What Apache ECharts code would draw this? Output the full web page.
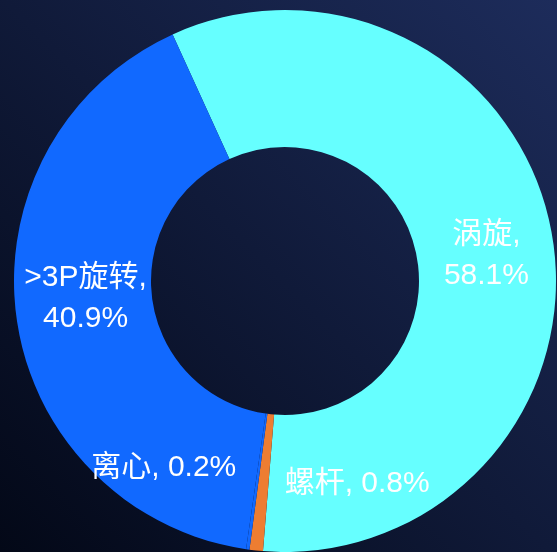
<!DOCTYPE html>
<html>
<head>
<meta charset="utf-8">
<script src="https://cdn.jsdelivr.net/npm/echarts@6/dist/echarts.min.js"></script>
<style>
html,body{margin:0;padding:0;background:#0a1230;}
#chart{width:557px;height:552px;}
</style>
</head>
<body>
<div id="chart"></div>
<script>
const categories = ['涡旋', '螺杆', '离心', '>3P旋转'];
const values = [58.1, 0.8, 0.2, 40.9];
const colors = ['#66FFFF', '#ED7D31', '#1169FF', '#1169FF'];
const wrapped = [true, false, false, true];
const labelOffsets = [[-1, 10], [94, -2], [-93, -17], [4, -12]];

const chart = echarts.init(document.getElementById('chart'));
chart.setOption({
  backgroundColor: new echarts.graphic.LinearGradient(1, 0, 0, 1, [
    {offset: 0, color: '#1d2c5b'},
    {offset: 1, color: '#030817'}
  ]),
  series: [{
    type: 'pie',
    center: [285, 281],
    radius: [134, 271],
    startAngle: 114.5,
    clockwise: true,
    avoidLabelOverlap: false,
    label: {
      show: true,
      position: 'inside',
      color: '#ffffff',
      fontSize: 30,
      lineHeight: 41,
      fontFamily: 'Liberation Sans, Arial, Noto Sans CJK SC, sans-serif',
      formatter: '{b}, {d}%'
    },
    labelLine: {show: false},
    data: categories.map((c, i) => ({
      name: c,
      value: values[i],
      itemStyle: {color: colors[i]},
      label: Object.assign({offset: labelOffsets[i]}, wrapped[i] ? {formatter: '{b},\n{d}%'} : {})
    }))
  }]
});
</script>
</body>
</html>
